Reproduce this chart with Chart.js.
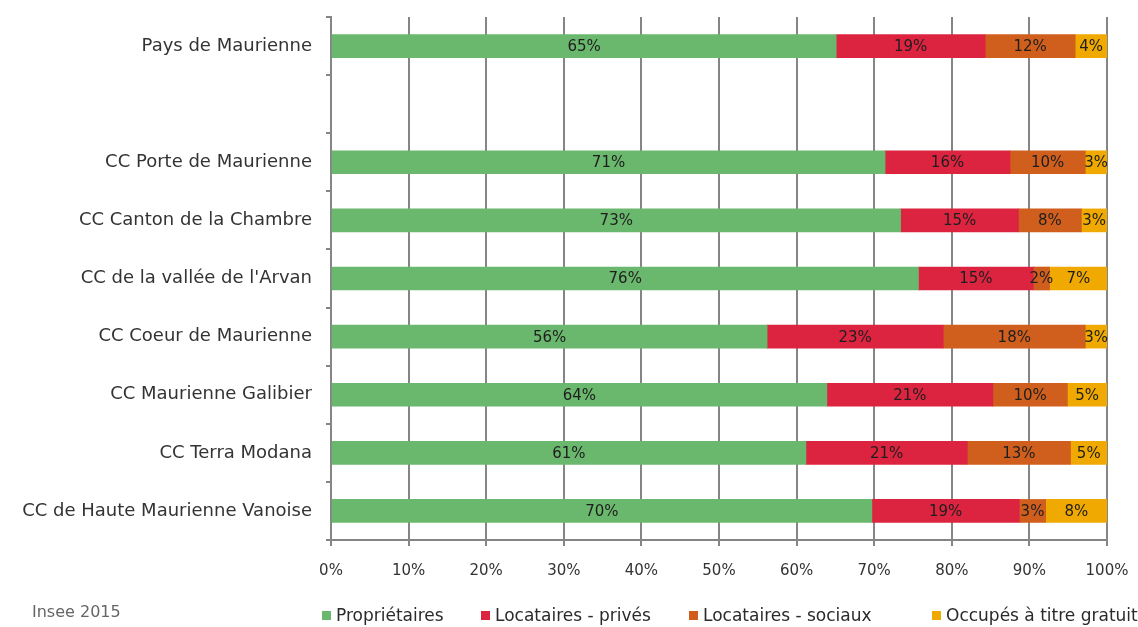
<!DOCTYPE html>
<html lang="fr">
<head>
<meta charset="utf-8">
<title>Statut d'occupation des résidences principales</title>
<script src="https://cdn.jsdelivr.net/npm/chart.js@4/dist/chart.umd.min.js"></script>
<style>
  html, body { margin: 0; padding: 0; background: #fff; overflow: hidden; }
  #wrap { width: 1138px; height: 627px; position: relative; }
</style>
</head>
<body>
<div id="wrap"><canvas id="myChart" width="1138" height="627"></canvas></div>
<script>
// territoires (ligne vide entre le pays et les communautés de communes)
const territoires = [
    "Pays de Maurienne",
    "",
    "CC Porte de Maurienne",
    "CC Canton de la Chambre",
    "CC de la vallée de l'Arvan",
    "CC Coeur de Maurienne",
    "CC Maurienne Galibier",
    "CC Terra Modana",
    "CC de Haute Maurienne Vanoise"
];

// parts en % des résidences principales
const proprietaires = [65.1, null, 71.4, 73.4, 75.7, 56.2, 63.9, 61.2, 69.7];
const locPrives     = [19.2, null, 16.1, 15.2, 14.8, 22.7, 21.4, 20.8, 19.0];
const locSociaux    = [11.6, null,  9.7,  8.1,  2.1, 18.3,  9.6, 13.3,  3.4];
const gratuit       = [ 4.1, null,  2.8,  3.3,  7.4,  2.8,  5.1,  4.7,  7.9];

const seriesNames = ["Propriétaires", "Locataires - privés", "Locataires - sociaux", "Occupés à titre gratuit"];
const xTicks = [0, 10, 20, 30, 40, 50, 60, 70, 80, 90, 100];
const source = "Insee 2015";

const colors = ["#6ab86d", "#dc2440", "#d05f1e", "#f0a900"];
const gridColor = "#858585";

const data = {
    labels: territoires,
    datasets: [proprietaires, locPrives, locSociaux, gratuit].map((vals, i) => ({
        label: seriesNames[i],
        data: vals,
        backgroundColor: colors[i],
        borderWidth: 0,
        barThickness: 23
    }))
};

// pourcentages au milieu de chaque segment
const valueLabels = {
    id: "valueLabels",
    afterDatasetsDraw(chart) {
        const ctx = chart.ctx;
        ctx.save();
        ctx.font = "15px 'DejaVu Sans'";
        ctx.fillStyle = "#1e1e1e";
        ctx.textAlign = "center";
        ctx.textBaseline = "middle";
        chart.data.datasets.forEach((ds, di) => {
            const meta = chart.getDatasetMeta(di);
            meta.data.forEach((bar, i) => {
                const v = ds.data[i];
                if (v == null) return;
                const c = bar.getCenterPoint();
                ctx.fillText(Math.round(v) + "%", c.x, c.y + 1);
            });
        });
        ctx.restore();
    }
};

// légende en bas + source
const legendX = [322, 481, 689, 932];
const bottomLegend = {
    id: "bottomLegend",
    afterDraw(chart) {
        const ctx = chart.ctx;
        ctx.save();
        ctx.textBaseline = "middle";
        ctx.font = "16px 'DejaVu Sans'";
        ctx.fillStyle = "#666";
        ctx.fillText(source, 32, 613);

        ctx.font = "17px 'DejaVu Sans'";
        const y = 617;
        chart.data.datasets.forEach((ds, i) => {
            const x = legendX[i];
            ctx.fillStyle = ds.backgroundColor;
            ctx.fillRect(x, y - 6, 9, 9);
            ctx.fillStyle = "#2a2a2a";
            ctx.fillText(ds.label, x + 14, y);
        });
        ctx.restore();
    }
};

const config = {
    type: "bar",
    data: data,
    options: {
        indexAxis: "y",
        responsive: false,
        animation: false,
        layout: {
            padding: { left: 0, right: 31, top: 17, bottom: 47 }
        },
        plugins: {
            legend: { display: false },
            tooltip: { enabled: false }
        },
        scales: {
            x: {
                stacked: true,
                min: 0,
                max: 100,
                afterBuildTicks: (scale) => { scale.ticks = xTicks.map(v => ({ value: v })); },
                afterFit: (scale) => {
                    scale.height = 40;
                    scale.paddingLeft = 0;
                    scale.paddingRight = 0;
                },
                ticks: {
                    callback: (v) => v + "%",
                    color: "#333",
                    font: { family: "DejaVu Sans", size: 15 },
                    padding: 16,
                    maxRotation: 0
                },
                grid: {
                    color: gridColor,
                    lineWidth: 2,
                    tickLength: 6
                },
                border: { color: gridColor, width: 2 }
            },
            y: {
                stacked: true,
                afterFit: (scale) => {
                    scale.width = 331;
                    scale.paddingTop = 0;
                    scale.paddingBottom = 0;
                },
                ticks: {
                    color: "#333",
                    font: { family: "DejaVu Sans", size: 18 },
                    padding: 14
                },
                grid: {
                    offset: true,
                    drawOnChartArea: false,
                    color: gridColor,
                    lineWidth: 2,
                    tickLength: 5
                },
                border: { color: gridColor, width: 2 }
            }
        }
    },
    plugins: [valueLabels, bottomLegend]
};

const myChart = new Chart(
    document.getElementById("myChart"),
    config
);
</script>
</body>
</html>
